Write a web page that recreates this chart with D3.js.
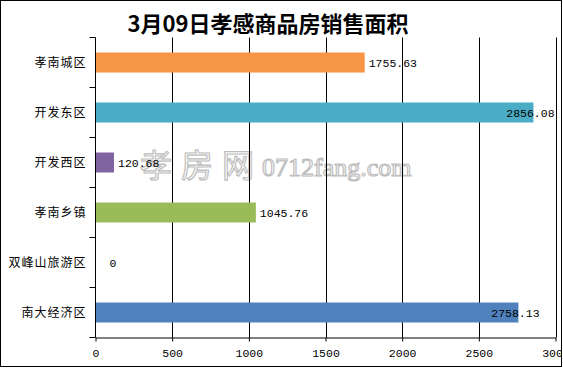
<!DOCTYPE html>
<html><head><meta charset="utf-8">
<script src="https://cdn.jsdelivr.net/npm/d3@7"></script>
<style>
html,body{margin:0;padding:0;background:#fff;}
svg{display:block;}
</style></head>
<body>
<svg id="c" width="563" height="368"></svg>
<script>
const titleText = "3月09日孝感商品房销售面积";
const categories = ["孝南城区","开发东区","开发西区","孝南乡镇","双峰山旅游区","南大经济区"];
const values = [1755.63, 2856.08, 120.68, 1045.76, 0, 2758.13];
const valueLabels = ["1755.63","2856.08","120.68","1045.76","0","2758.13"];
const colors = ["#F79646","#4BACC6","#8064A2","#9BBB59","#4BACC6","#4F81BD"];
const xTicks = [0,500,1000,1500,2000,2500,3000];

const W = 563, H = 368;
const L = 95.5, R = 555.5, T = 37.5, B = 337.5;
const svg = d3.select("#c");

svg.append("defs").append("clipPath").attr("id","frame")
  .append("rect").attr("x",1).attr("y",1).attr("width",560.5).attr("height",365.5);

const g = svg.append("g").attr("clip-path","url(#frame)");

const x = d3.scaleLinear().domain([0,3000]).range([L,R]);
const y = d3.scaleBand().domain(categories).range([T,B]).paddingInner(0.6).paddingOuter(0.3);

// title
g.append("text").attr("x",268).attr("y",32).attr("text-anchor","middle")
  .attr("font-family","'Noto Sans CJK SC'").attr("font-weight","bold").attr("font-size",22)
  .attr("fill","#000").text(titleText);

// watermark
g.append("text").attr("x",140).attr("y",177)
  .attr("font-family","'Noto Sans CJK SC'").attr("font-size",32)
  .attr("fill","#fff").attr("stroke","#bdbdbd").attr("stroke-width",1.2)
  .attr("letter-spacing",9)
  .text("孝房网");
g.append("text").attr("x",262).attr("y",176)
  .attr("font-family","'Liberation Serif'").attr("font-size",26)
  .attr("fill","#fff").attr("stroke","#bdbdbd").attr("stroke-width",1.2)
  .text("0712fang.com");

// gridlines
g.append("g").selectAll("line").data(xTicks.filter(d=>d>0)).join("line")
  .attr("x1",d=>Math.round(x(d))+0.5).attr("x2",d=>Math.round(x(d))+0.5)
  .attr("y1",T).attr("y2",B).attr("stroke","#000").attr("stroke-width",1);

// bars
g.append("g").selectAll("rect").data(values).join("rect")
  .attr("x",x(0)).attr("y",(d,i)=>y(categories[i]))
  .attr("width",d=>x(d)-x(0)).attr("height",y.bandwidth())
  .attr("fill",(d,i)=>colors[i]);

// x axis
const xAxis = d3.axisBottom(x).tickValues(xTicks).tickSize(4).tickSizeOuter(0).tickFormat(d3.format("d"));
const xa = g.append("g").attr("transform",`translate(0,${B})`).call(xAxis);
xa.select(".domain").attr("stroke","#000");
xa.selectAll(".tick line").attr("stroke","#000");
xa.selectAll("text").attr("font-family","'Liberation Mono'").attr("font-size",11.5).attr("fill","#000").attr("dy","1.1em");

// y axis
const ya = g.append("g").attr("transform",`translate(${L},0)`);
ya.append("line").attr("x1",0).attr("x2",0).attr("y1",T).attr("y2",B).attr("stroke","#000");
const bounds = d3.range(categories.length+1).map(i=>T + i*y.step());
ya.selectAll("line.tk").data(bounds).join("line").attr("class","tk")
  .attr("x1",-6).attr("x2",0).attr("y1",d=>d).attr("y2",d=>d).attr("stroke","#000");
ya.selectAll("text").data(categories).join("text")
  .attr("x",-9).attr("y",d=>y(d)+y.bandwidth()/2).attr("dy","0.35em")
  .attr("text-anchor","end")
  .attr("font-family","'Noto Sans CJK SC'").attr("font-size",12).attr("letter-spacing",1)
  .attr("fill","#000").text(d=>d);

// value labels
const labelW = 46;
g.append("g").selectAll("text").data(values).join("text")
  .attr("x",(d,i)=>{ const e = x(d); if (e+5+labelW > R) return e - 3; return d === 0 ? e + 14 : e + 4; })
  .attr("text-anchor",(d)=> (x(d)+5+labelW > R) ? "middle" : "start")
  .attr("y",(d,i)=>y(categories[i])+y.bandwidth()/2).attr("dy","0.35em")
  .attr("font-family","'Liberation Mono'").attr("font-size",11.5).attr("fill","#000")
  .text((d,i)=>valueLabels[i]);

// outer frame
svg.append("rect").attr("x",0.5).attr("y",0.5).attr("width",561).attr("height",366)
  .attr("fill","none").attr("stroke","#000").attr("stroke-width",1);
</script>
</body></html>
